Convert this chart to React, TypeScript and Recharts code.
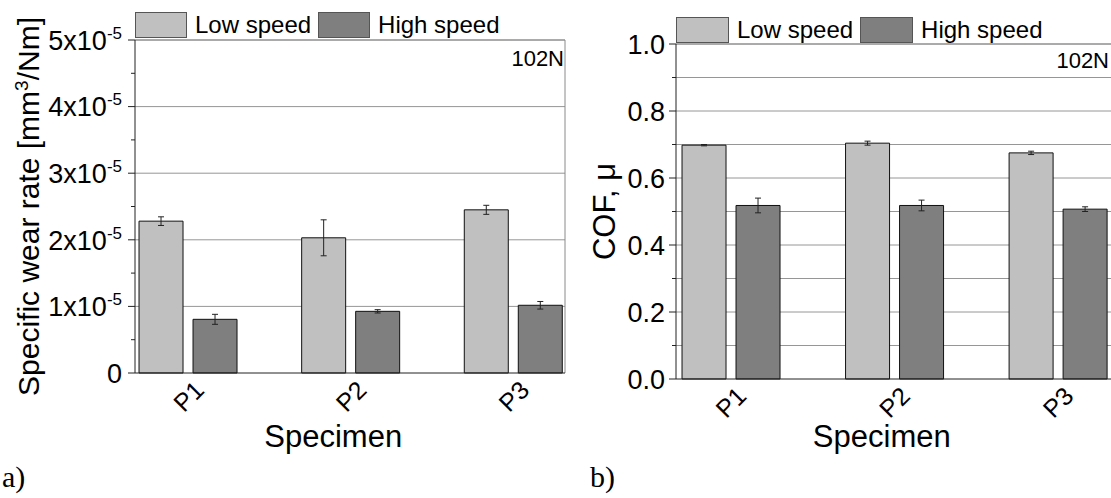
import React from 'react';
import {
  BarChart,
  Bar,
  XAxis,
  YAxis,
  CartesianGrid,
  ErrorBar,
  Legend,
  ReferenceLine,
} from 'recharts';

// ---- data -------------------------------------------------------------
const specimens = ['P1', 'P2', 'P3'];
const seriesNames = ['Low speed', 'High speed'];
const loadLabel = '102N';

// a) specific wear rate, mm^3/Nm
const wearLow = [2.28e-5, 2.03e-5, 2.45e-5];
const wearLowErr = [0.065e-5, 0.27e-5, 0.068e-5];
const wearHigh = [0.806e-5, 0.926e-5, 1.017e-5];
const wearHighErr = [0.075e-5, 0.025e-5, 0.057e-5];
const wearTicks = [0, 0.5e-5, 1e-5, 1.5e-5, 2e-5, 2.5e-5, 3e-5, 3.5e-5, 4e-5, 4.5e-5, 5e-5];
const wearGridLines = [1e-5, 2e-5, 3e-5, 4e-5, 5e-5];

// b) coefficient of friction
const cofLow = [0.698, 0.704, 0.675];
const cofLowErr = [0.002, 0.006, 0.005];
const cofHigh = [0.518, 0.518, 0.507];
const cofHighErr = [0.022, 0.016, 0.007];
const cofTicks = [0, 0.1, 0.2, 0.3, 0.4, 0.5, 0.6, 0.7, 0.8, 0.9, 1.0];
const cofGridLines = [0.1, 0.2, 0.3, 0.4, 0.5, 0.6, 0.7, 0.8, 0.9, 1.0];

const buildRows = (low: number[], lowErr: number[], high: number[], highErr: number[]) =>
  specimens.map((name, i) => ({
    pos: i + 1,
    name,
    low: low[i],
    lowErr: lowErr[i],
    high: high[i],
    highErr: highErr[i],
  }));

const wearRows = buildRows(wearLow, wearLowErr, wearHigh, wearHighErr);
const cofRows = buildRows(cofLow, cofLowErr, cofHigh, cofHighErr);

// ---- styling ----------------------------------------------------------
const SANS = '"Liberation Sans", Arial, sans-serif';
const SERIF = '"Liberation Serif", "DejaVu Serif", serif';
const LOW_FILL = '#c0c0c0';
const HIGH_FILL = '#7f7f7f';
const BAR_STROKE = '#111111';
const AXIS = '#222222';
const GRID = '#969696';
const TICK_FONT = 27;

// ---- tick renderers ---------------------------------------------------
const wearIsMajor = (v: number) => Number.isInteger(Math.round(v * 1e6) / 10);
const wearLabel = (v: number) => {
  if (v === 0) return '0';
  const n = Math.round(v * 1e5);
  return (
    <>
      {`${n}x10`}
      <tspan dy={-11} fontSize={17}>-5</tspan>
    </>
  );
};
const cofIsMajor = (v: number) => Math.round(v * 10) % 2 === 0;
const cofLabel = (v: number) => v.toFixed(1);

const makeYTick = (isMajor: (v: number) => boolean, render: (v: number) => React.ReactNode, gap: number) =>
  (props: any) => {
    const { x, y, payload } = props;
    const v = payload.value as number;
    const major = isMajor(v);
    return (
      <g>
        <line x1={x - (major ? 7 : 4)} x2={x} y1={y} y2={y} stroke={AXIS} strokeWidth={1} />
        {major && (
          <text x={x - gap} y={y} dy={9.7} textAnchor="end" fontSize={TICK_FONT} fontFamily={SANS} fill="#000">
            {render(v)}
          </text>
        )}
      </g>
    );
  };

const XTick = (props: any) => {
  const { x, y, payload } = props;
  const name = specimens[Math.round(payload.value) - 1];
  return (
    <text
      transform={`translate(${x},${y + 23}) rotate(-45)`}
      textAnchor="middle"
      dy="0.36em"
      fontSize={25}
      fontFamily={SANS}
      fill="#000"
    >
      {name}
    </text>
  );
};

// ---- legend -----------------------------------------------------------
const makeLegend = (boxW: number) => (props: any) => {
  const payload: any[] = props.payload || [];
  const ordered = seriesNames
    .map((n) => payload.find((p) => p.value === n))
    .filter(Boolean);
  return (
    <div style={{ display: 'flex', alignItems: 'center', fontFamily: SANS, fontSize: 24, color: '#000', whiteSpace: 'nowrap' }}>
      {ordered.map((entry: any) => (
        <div key={entry.value} style={{ display: 'flex', alignItems: 'center', marginRight: 7 }}>
          <span
            style={{
              display: 'inline-block',
              width: boxW,
              height: 26,
              background: entry.color,
              border: '1px solid #555',
              boxSizing: 'border-box',
              marginRight: 8,
            }}
          />
          <span style={{ lineHeight: '26px' }}>{entry.value}</span>
        </div>
      ))}
    </div>
  );
};

// ---- one panel --------------------------------------------------------
type PanelProps = {
  width: number;
  margin: { top: number; right: number; bottom: number; left: number };
  yAxisWidth: number;
  xDomain: [number, number];
  yDomain: [number, number];
  yTicks: number[];
  gridLines: number[];
  isMajor: (v: number) => boolean;
  tickText: (v: number) => React.ReactNode;
  tickGap: number;
  yTitle: (cx: number, cy: number) => React.ReactNode;
  yTitleX: number;
  xTitleFrac: number;
  data: any[];
  legendPos: { left: number; top: number };
  boxW: number;
  noteRight: number;
  noteDy: number;
};

const Panel = (p: PanelProps) => (
  <BarChart
    width={p.width}
    height={498}
    data={p.data}
    margin={p.margin}
    barSize={44}
    barGap={10}
    style={{ fontFamily: SANS }}
  >
    <CartesianGrid horizontal vertical={false} horizontalValues={p.gridLines} stroke={GRID} strokeWidth={1} />
    <XAxis
      dataKey="pos"
      type="number"
      domain={p.xDomain}
      ticks={[1, 2, 3]}
      interval={0}
      height={60}
      tickSize={0}
      tickMargin={0}
      tickLine={false}
      axisLine={{ stroke: AXIS, strokeWidth: 1 }}
      tick={<XTick />}
      label={(lp: any) => {
        const vb = lp.viewBox || {};
        return (
          <text
            x={vb.x + vb.width * p.xTitleFrac}
            y={447}
            textAnchor="middle"
            fontSize={31}
            fontFamily={SANS}
            fill="#000"
          >
            Specimen
          </text>
        );
      }}
    />
    <YAxis
      type="number"
      domain={p.yDomain}
      ticks={p.yTicks}
      interval={0}
      width={p.yAxisWidth}
      tickSize={0}
      tickMargin={0}
      tickLine={false}
      axisLine={{ stroke: AXIS, strokeWidth: 1 }}
      tick={makeYTick(p.isMajor, p.tickText, p.tickGap)}
      label={(lp: any) => {
        const vb = lp.viewBox || {};
        return p.yTitle(p.yTitleX, vb.y + vb.height / 2);
      }}
    />
    <ReferenceLine x={p.xDomain[1]} stroke="#8a8a8a" />
    <ReferenceLine
      y={p.yDomain[1]}
      stroke="#8a8a8a"
      label={(lp: any) => {
        const vb = lp.viewBox || {};
        return (
          <text
            x={vb.x + vb.width - p.noteRight}
            y={vb.y + p.noteDy}
            textAnchor="end"
            fontSize={22}
            fontFamily={SANS}
            fill="#000"
          >
            {loadLabel}
          </text>
        );
      }}
    />
    <Bar dataKey="low" name={seriesNames[0]} fill={LOW_FILL} stroke={BAR_STROKE} strokeWidth={1} isAnimationActive={false}>
      <ErrorBar dataKey="lowErr" direction="y" width={3} stroke={AXIS} strokeWidth={1} />
    </Bar>
    <Bar dataKey="high" name={seriesNames[1]} fill={HIGH_FILL} stroke={BAR_STROKE} strokeWidth={1} isAnimationActive={false}>
      <ErrorBar dataKey="highErr" direction="y" width={3} stroke={AXIS} strokeWidth={1} />
    </Bar>
    <Legend
      layout="horizontal"
      verticalAlign="middle"
      align="center"
      wrapperStyle={{ left: p.legendPos.left, top: p.legendPos.top, width: 'auto', height: 'auto' }}
      content={makeLegend(p.boxW)}
    />
  </BarChart>
);

const wearTitle = (cx: number, cy: number) => (
  <text
    transform={`translate(${cx},${cy}) rotate(-90)`}
    textAnchor="middle"
    fontSize={30}
    fontFamily={SANS}
    fill="#000"
  >
    Specific wear rate [mm
    <tspan dy={-11} fontSize={19}>3</tspan>
    <tspan dy={11}>/Nm]</tspan>
  </text>
);

const cofTitle = (cx: number, cy: number) => (
  <text
    transform={`translate(${cx},${cy}) rotate(-90)`}
    textAnchor="middle"
    fontSize={31}
    fontFamily={SANS}
    fill="#000"
  >
    COF, μ
  </text>
);

const tagStyle: React.CSSProperties = {
  position: 'absolute',
  top: 462,
  fontFamily: SERIF,
  fontSize: 30,
  lineHeight: '30px',
  color: '#000',
};

export default function App() {
  return (
    <div
      style={{
        position: 'absolute',
        left: 0,
        top: 0,
        width: 1111,
        height: 498,
        overflow: 'hidden',
        background: '#fff',
      }}
    >
      <div style={{ position: 'absolute', left: 0, top: 0 }}>
        <Panel
          width={580}
          margin={{ top: 40, right: 15, bottom: 65, left: 0 }}
          yAxisWidth={135}
          xDomain={[0.672, 3.316]}
          yDomain={[0, 5e-5]}
          yTicks={wearTicks}
          gridLines={wearGridLines}
          isMajor={wearIsMajor}
          tickText={wearLabel}
          tickGap={13}
          yTitle={wearTitle}
          yTitleX={39}
          xTitleFrac={0.461}
          data={wearRows}
          legendPos={{ left: 135, top: 12 }}
          boxW={52}
          noteRight={1}
          noteDy={26}
        />
      </div>
      <div style={{ position: 'absolute', left: 580, top: 0 }}>
        <Panel
          width={540}
          margin={{ top: 44, right: 8, bottom: 59, left: 0 }}
          yAxisWidth={96}
          xDomain={[0.665, 3.331]}
          yDomain={[0, 1]}
          yTicks={cofTicks}
          gridLines={cofGridLines}
          isMajor={cofIsMajor}
          tickText={cofLabel}
          tickGap={11}
          yTitle={cofTitle}
          yTitleX={35}
          xTitleFrac={0.472}
          data={cofRows}
          legendPos={{ left: 96, top: 17 }}
          boxW={53}
          noteRight={3}
          noteDy={24}
        />
      </div>
      <div style={{ ...tagStyle, left: 2 }}>a)</div>
      <div style={{ ...tagStyle, left: 590 }}>b)</div>
    </div>
  );
}
